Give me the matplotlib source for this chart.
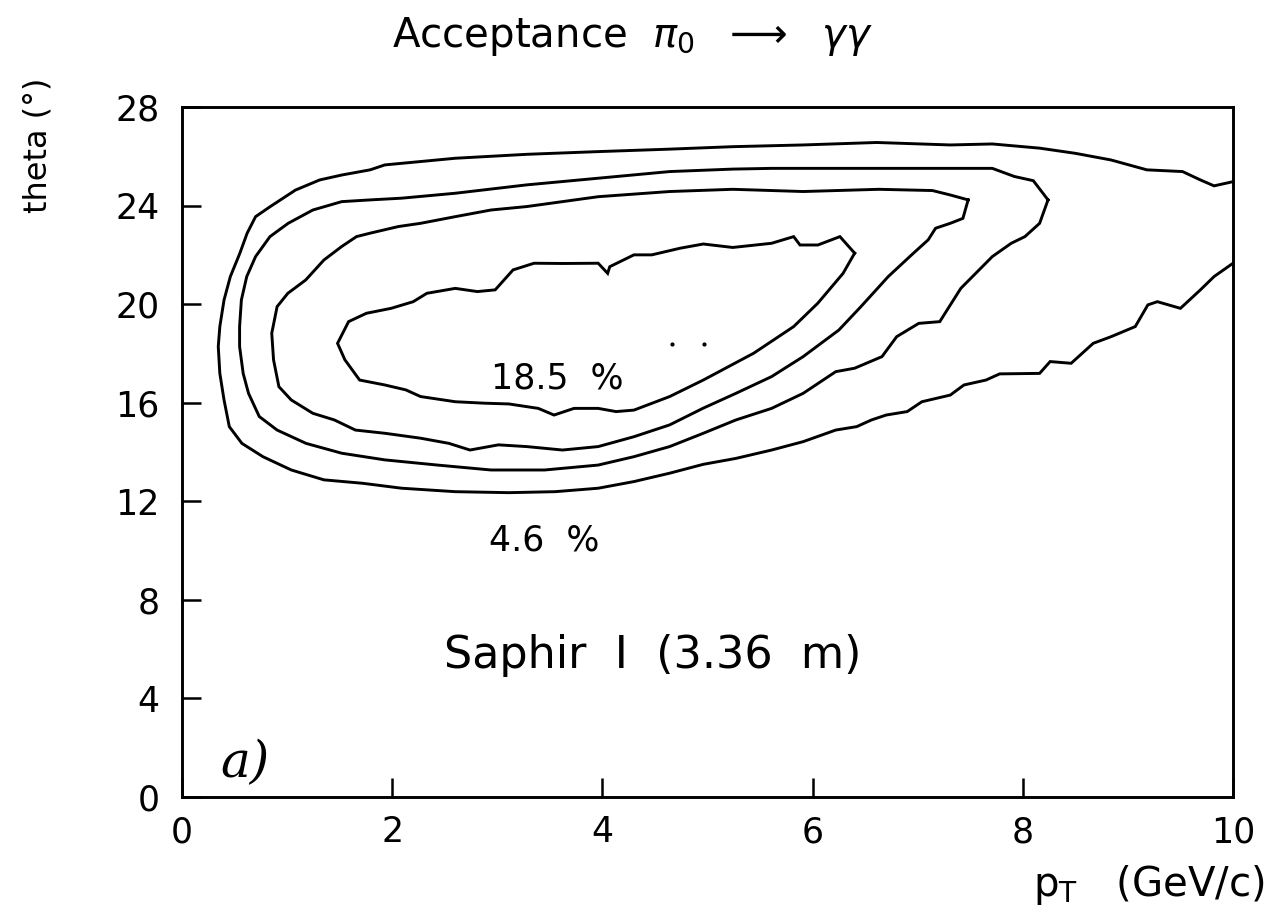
import matplotlib
matplotlib.use("Agg")
import matplotlib.pyplot as plt

plt.rcParams['font.family'] = ['DejaVu Sans']
plt.rcParams['mathtext.fontset'] = 'dejavusans'

# Acceptance contours in (pT [GeV/c], theta [deg]); outermost first.
contour_outer_pt = [10.0, 9.82, 9.69, 9.52, 9.18, 8.84, 8.50, 8.16, 7.71, 7.31, 6.61, 5.91, 5.24,
                    4.64, 3.96, 3.28, 2.60, 1.93, 1.79, 1.52, 1.31, 1.08, 0.84, 0.70, 0.62, 0.55,
                    0.46, 0.40, 0.36, 0.345, 0.36, 0.40, 0.45, 0.57, 0.77, 1.04, 1.35, 1.72, 2.09,
                    2.60, 3.11, 3.55, 3.96, 4.30, 4.64, 4.96, 5.27, 5.61, 5.91, 6.22, 6.42, 6.56,
                    6.70, 6.90, 7.04, 7.31, 7.44, 7.65, 7.78, 8.16, 8.26, 8.46, 8.67, 8.84, 9.07,
                    9.19, 9.28, 9.50, 9.69, 9.82, 10.0]
contour_outer_th = [24.97, 24.80, 25.04, 25.38, 25.45, 25.85, 26.12, 26.33, 26.50, 26.46, 26.56, 26.46, 26.39,
                    26.29, 26.19, 26.08, 25.92, 25.65, 25.45, 25.24, 25.04, 24.63, 23.96, 23.55, 22.88, 22.06,
                    21.12, 20.17, 19.09, 18.28, 17.19, 16.11, 15.03, 14.35, 13.81, 13.27, 12.87, 12.73, 12.53,
                    12.39, 12.35, 12.39, 12.53, 12.80, 13.14, 13.50, 13.74, 14.08, 14.42, 14.89, 15.03, 15.30,
                    15.50, 15.64, 16.04, 16.31, 16.72, 16.92, 17.17, 17.19, 17.67, 17.60, 18.41, 18.68, 19.09,
                    19.97, 20.10, 19.83, 20.58, 21.12, 21.66]

contour_second_pt = [8.24, 8.16, 8.02, 7.89, 7.71, 7.41, 7.21, 7.01, 6.80, 6.66, 6.40, 6.22, 5.91,
                     5.61, 5.27, 4.96, 4.64, 4.30, 3.96, 3.45, 2.94, 2.43, 1.93, 1.52, 1.18, 0.905,
                     0.735, 0.633, 0.582, 0.548, 0.548, 0.565, 0.616, 0.70, 0.837, 1.01, 1.245, 1.52,
                     1.79, 2.09, 2.60, 3.28, 3.96, 4.64, 5.24, 5.61, 6.33, 7.04, 7.71, 7.92, 8.10, 8.24]
contour_second_th = [24.23, 23.28, 22.74, 22.47, 21.93, 20.64, 19.29, 19.22, 18.68, 17.87, 17.40, 17.26, 16.38,
                     15.77, 15.30, 14.76, 14.22, 13.81, 13.47, 13.27, 13.27, 13.47, 13.68, 13.95, 14.35, 14.89,
                     15.44, 16.38, 17.19, 18.28, 19.09, 20.17, 21.12, 21.93, 22.74, 23.28, 23.82, 24.16,
                     24.23, 24.30, 24.50, 24.84, 25.11, 25.38, 25.48, 25.51, 25.51, 25.51, 25.51, 25.18, 25.01, 24.23]

contour_third_pt = [7.48, 7.43, 7.31, 7.17, 7.10, 6.96, 6.72, 6.46, 6.25, 5.91, 5.61, 5.27, 4.96,
                    4.64, 4.30, 3.96, 3.62, 3.28, 3.01, 2.74, 2.54, 2.27, 1.93, 1.65, 1.45, 1.245,
                    1.04, 0.922, 0.871, 0.854, 0.905, 1.007, 1.177, 1.35, 1.52, 1.66, 1.79, 2.06,
                    2.27, 2.60, 2.94, 3.28, 3.96, 4.64, 5.24, 5.91, 6.63, 7.14, 7.31, 7.48]
contour_third_th = [24.23, 23.48, 23.28, 23.08, 22.61, 22.07, 21.12, 19.90, 18.95, 17.87, 17.06, 16.38, 15.78,
                    15.10, 14.62, 14.22, 14.08, 14.22, 14.29, 14.08, 14.35, 14.56, 14.76, 14.89, 15.30, 15.57,
                    16.11, 16.65, 17.74, 18.82, 19.90, 20.44, 20.98, 21.79, 22.34, 22.74, 22.88, 23.15,
                    23.28, 23.55, 23.82, 23.96, 24.36, 24.57, 24.66, 24.57, 24.66, 24.61, 24.43, 24.23]

contour_inner_pt = [6.40, 6.29, 6.05, 5.82, 5.44, 4.96, 4.64, 4.30, 4.13, 3.96, 3.73, 3.54, 3.39,
                    3.11, 2.88, 2.60, 2.27, 2.13, 1.93, 1.69, 1.55, 1.48, 1.585, 1.755, 1.99, 2.20,
                    2.33, 2.60, 2.81, 2.98, 3.15, 3.35, 3.62, 3.96, 4.05, 4.07, 4.30, 4.47, 4.74,
                    4.96, 5.24, 5.61, 5.82, 5.88, 6.05, 6.26, 6.40]
contour_inner_th = [22.07, 21.25, 20.04, 19.09, 18.01, 16.92, 16.25, 15.70, 15.64, 15.77, 15.77, 15.50, 15.77,
                    15.95, 15.98, 16.04, 16.25, 16.52, 16.72, 16.92, 17.74, 18.41, 19.29, 19.63, 19.83, 20.10,
                    20.44, 20.64, 20.51, 20.58, 21.39, 21.66, 21.65, 21.66, 21.25, 21.52, 22.00, 22.00, 22.27,
                    22.44, 22.30, 22.47, 22.74, 22.40, 22.40, 22.74, 22.07]

# Isolated points inside the innermost contour
dot_pt = [4.66, 4.97]
dot_th = [18.4, 18.4]

x_ticks = [0, 2, 4, 6, 8, 10]
y_ticks = [0, 4, 8, 12, 16, 20, 24, 28]

# Contour labels: (text, pT, theta)
label_inner = ("18.5  %", 3.57, 16.99)
label_outer = ("4.6  %", 3.45, 10.4)

fig = plt.figure(figsize=(12.74, 9.22), dpi=100)
ax = fig.add_axes([182 / 1274, 1 - 797 / 922, (1233 - 182) / 1274, (797 - 107) / 922])

lw = 2.1
for xs, ys in [(contour_outer_pt, contour_outer_th),
               (contour_second_pt, contour_second_th),
               (contour_third_pt, contour_third_th),
               (contour_inner_pt, contour_inner_th)]:
    ax.plot(xs, ys, color='black', lw=lw, solid_joinstyle='miter')

ax.plot(dot_pt, dot_th, 'o', color='black', ms=2)

ax.set_xlim(0, 10)
ax.set_ylim(0, 28)
ax.set_xticks(x_ticks)
ax.set_yticks(y_ticks)
ax.set_xticklabels([str(t) for t in x_ticks])
ax.set_yticklabels([str(t) for t in y_ticks])
ax.tick_params(direction='in', length=14, width=1.8, labelsize=25,
               top=False, right=False)
ax.tick_params(axis='y', pad=16)
ax.tick_params(axis='x', pad=13)
for s in ax.spines.values():
    s.set_linewidth(2.1)

fs_text = 25
ax.text(label_inner[1], label_inner[2], label_inner[0], fontsize=fs_text,
        ha='center', va='center')
ax.text(label_outer[1], label_outer[2], label_outer[0], fontsize=fs_text,
        ha='center', va='center')
ax.text(4.48, 5.76, "Saphir  I  (3.36  m)", fontsize=32, ha='center', va='center')
ax.text(0.6, 1.35, "a)", fontsize=36, family='DejaVu Serif', style='italic',
        ha='center', va='center')

fig.text(632 / 1274, 1 - 36 / 922,
         r"Acceptance  $\pi_0\ \ \longrightarrow\ \ \gamma\gamma$",
         fontsize=29, ha='center', va='center')
fig.text(38 / 1274, 1 - 78 / 922, "theta (°)", fontsize=23, rotation=90,
         ha='center', va='top')
fig.text(1265 / 1274, 1 - 885 / 922, r"p$_\mathrm{T}$   (GeV/c)", fontsize=29,
         ha='right', va='center')

fig.savefig("out.png", dpi=100)
